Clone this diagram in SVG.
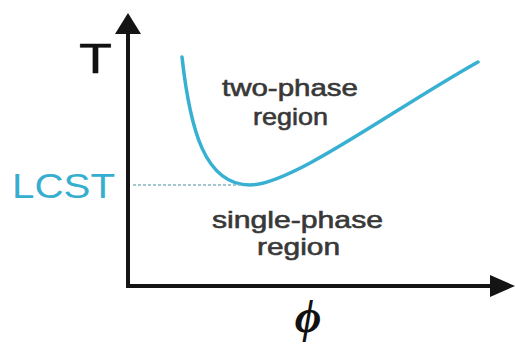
<svg xmlns="http://www.w3.org/2000/svg" width="515" height="344" viewBox="0 0 515 344">
<style>
.lbl{font-family:"Liberation Sans",Arial,sans-serif;fill:#383838;stroke:#383838;stroke-width:0.6;font-size:24px;}
.ax{stroke:#141414;stroke-width:4;fill:none;}
</style>
<rect width="515" height="344" fill="#fff"/>
<g id="axes">
<polyline class="ax" points="128,32 128,286 492,286"/>
<polygon points="128,13 115,34 141,34" fill="#141414"/>
<polygon points="515,286 490,275 490,297" fill="#141414"/>
</g>
<g id="curve">
<path d="M182,57 C190,130 205,185 250,185 C292,185 392,110 478,62" fill="none" stroke="#38b0d2" stroke-width="3.5" stroke-linecap="round"/>
<line x1="133" y1="185" x2="240" y2="185" stroke="#86b6c0" stroke-width="1.5" stroke-dasharray="3 2"/>
</g>
<g id="labels">
<text x="79" y="73" font-family="Liberation Sans,Arial,sans-serif" font-size="43" fill="#111" stroke="#111" stroke-width="0.5" textLength="33" lengthAdjust="spacingAndGlyphs">T</text>
<text x="12" y="198" font-family="Liberation Sans,Arial,sans-serif" font-size="35" fill="#35aed0" textLength="103" lengthAdjust="spacingAndGlyphs">LCST</text>
<text class="lbl" x="222" y="96" textLength="136" lengthAdjust="spacingAndGlyphs">two-phase</text>
<text class="lbl" x="253" y="125" textLength="75" lengthAdjust="spacingAndGlyphs">region</text>
<text class="lbl" x="212" y="228" textLength="171" lengthAdjust="spacingAndGlyphs">single-phase</text>
<text class="lbl" x="257" y="255" textLength="83" lengthAdjust="spacingAndGlyphs">region</text>
<text x="308" y="332" text-anchor="middle" font-family="Liberation Serif,Times New Roman,serif" font-style="italic" font-weight="bold" font-size="46" fill="#111">ϕ</text>
</g>
</svg>
